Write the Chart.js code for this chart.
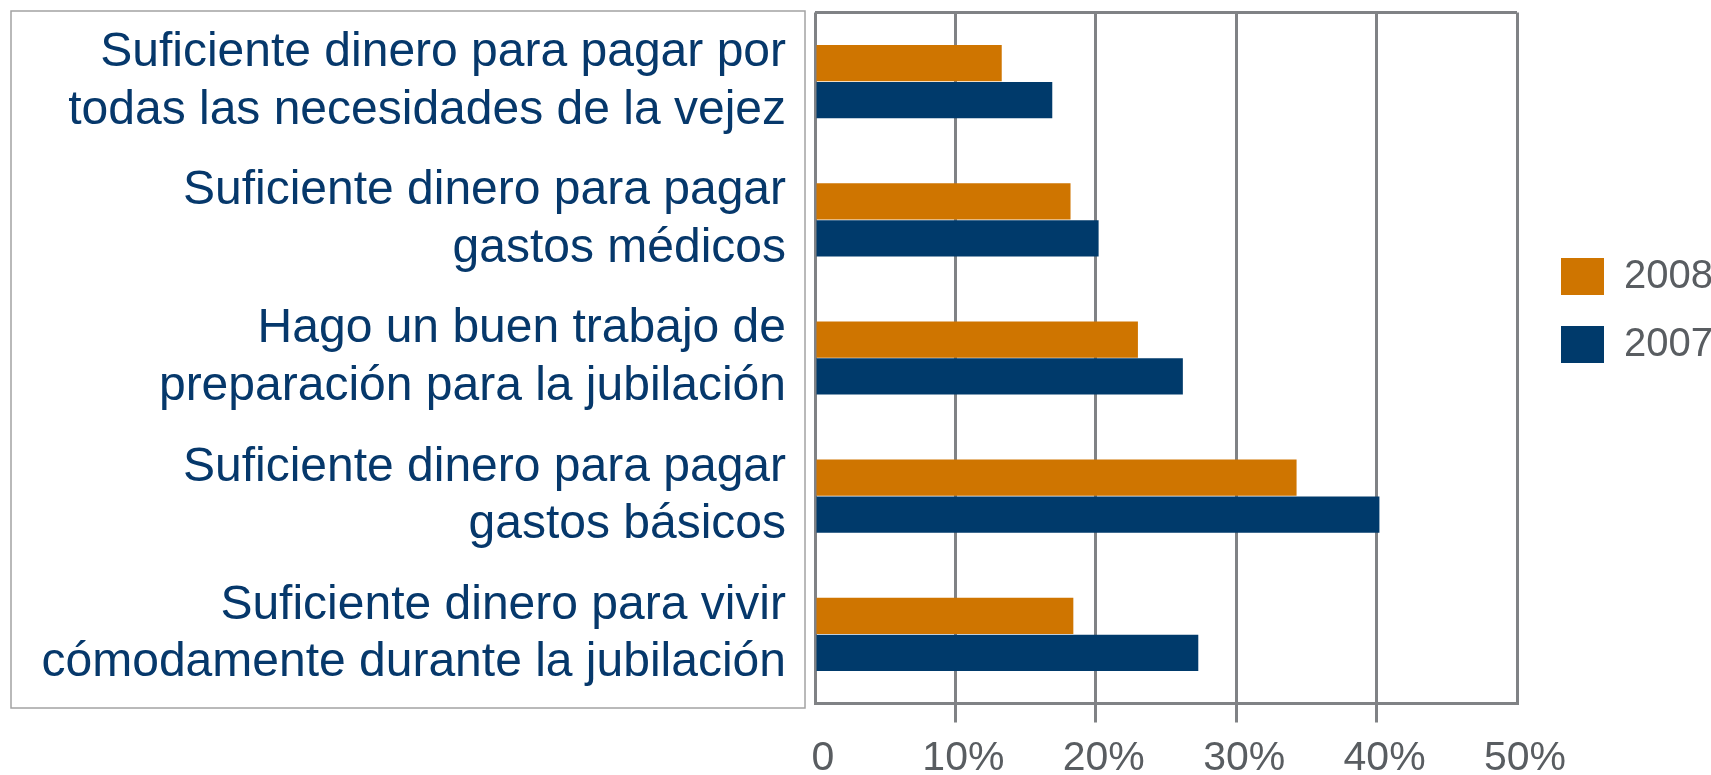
<!DOCTYPE html>
<html>
<head>
<meta charset="utf-8">
<title>Preparación para la jubilación</title>
<script src="https://cdn.jsdelivr.net/npm/chart.js@4.4.1/dist/chart.umd.min.js"></script>
<style>
  html, body { margin: 0; padding: 0; background: #fff; }
  #wrap { position: relative; width: 1711px; height: 775px; }
</style>
</head>
<body>
<div id="wrap"><canvas id="retirementChart"></canvas></div>
<script>
// Data
const categories = [
    ['Suficiente dinero para pagar por', 'todas las necesidades de la vejez'],
    ['Suficiente dinero para pagar', 'gastos médicos'],
    ['Hago un buen trabajo de', 'preparación para la jubilación'],
    ['Suficiente dinero para pagar', 'gastos básicos'],
    ['Suficiente dinero para vivir', 'cómodamente durante la jubilación']
];
const seriesNames = ['2008', '2007'];
const values2008 = [13.3, 18.2, 23.0, 34.3, 18.4];
const values2007 = [16.9, 20.2, 26.2, 40.2, 27.3];
const xTicks = [0, 10, 20, 30, 40, 50];

const ORANGE = '#cf7500';
const NAVY = '#003a6b';
const GRID = '#808285';
const TEXT_NAVY = '#06386b';
const TEXT_GREY = '#595d61';

// Frame around the category labels + legend placement tweaks
const framePlugin = {
    id: 'labelFrame',
    beforeUpdate(chart) {
        const legend = chart.legend;
        if (legend && !legend._fitPatched) {
            const origFit = legend.fit.bind(legend);
            legend.fit = function () {
                origFit();
                this.width = 194;
            };
            legend._fitPatched = true;
        }
    },
    afterLayout(chart) {
        const legend = chart.legend;
        legend.left += 16;
        legend.right += 16;
        legend.top += 216;
    },
    beforeDraw(chart) {
        const { ctx, chartArea } = chart;
        ctx.save();
        ctx.strokeStyle = '#a3a3a3';
        ctx.lineWidth = 1.5;
        ctx.strokeRect(11, chartArea.top - 1.5, chartArea.left - 21, chartArea.bottom - chartArea.top + 6);
        ctx.restore();
    }
};

const ctx = document.getElementById('retirementChart').getContext('2d');
new Chart(ctx, {
    type: 'bar',
    data: {
        labels: categories,
        datasets: [
            { label: seriesNames[0], data: values2008, backgroundColor: ORANGE, borderWidth: 0 },
            { label: seriesNames[1], data: values2007, backgroundColor: NAVY, borderWidth: 0 }
        ]
    },
    options: {
        indexAxis: 'y',
        responsive: true,
        maintainAspectRatio: false,
        animation: false,
        categoryPercentage: 0.535,
        barPercentage: 0.98,
        layout: { padding: { top: 12.5, left: 0, right: 0, bottom: 0 } },
        plugins: {
            legend: {
                position: 'right',
                align: 'start',
                labels: {
                    boxWidth: 43,
                    boxHeight: 37,
                    padding: 28,
                    color: TEXT_GREY,
                    font: { family: '"Liberation Sans", Arial, sans-serif', size: 40 }
                }
            },
            tooltip: { enabled: false }
        },
        scales: {
            x: {
                min: 0,
                max: 50,
                afterBuildTicks: (scale) => { scale.ticks = xTicks.map(v => ({ value: v })); },
                afterFit: (scale) => {
                    scale.height = 71.5;
                    scale.paddingLeft = 0;
                    scale.paddingRight = 0;
                },
                border: { display: true, color: GRID, width: 3 },
                grid: {
                    color: GRID,
                    lineWidth: 3,
                    drawTicks: true,
                    tickLength: 19,
                    tickWidth: 3,
                    tickColor: (c) => (c.tick && (c.tick.value === 0 || c.tick.value === 50)) ? 'rgba(0,0,0,0)' : GRID
                },
                ticks: {
                    padding: 12,
                    labelOffset: 8,
                    maxRotation: 0,
                    color: TEXT_GREY,
                    font: { family: '"Liberation Sans", Arial, sans-serif', size: 41 },
                    callback: (v) => v === 0 ? '0' : v + '%'
                }
            },
            y: {
                afterFit: (scale) => {
                    scale.width = 815;
                    scale.paddingTop = 0;
                    scale.paddingBottom = 0;
                },
                border: { display: false },
                grid: {
                    drawTicks: false,
                    lineWidth: 3,
                    color: (c) => c.index === 0 ? GRID : 'rgba(0,0,0,0)'
                },
                ticks: {
                    padding: 29,
                    color: TEXT_NAVY,
                    font: { family: '"Liberation Sans", Arial, sans-serif', size: 48, lineHeight: 1.2 }
                }
            }
        }
    },
    plugins: [framePlugin]
});
</script>
</body>
</html>
